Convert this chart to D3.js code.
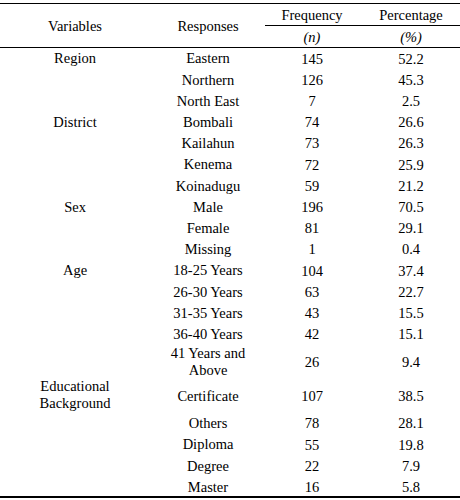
<!DOCTYPE html>
<html lang="en">
<head>
    <meta charset="UTF-8">
    <script src="https://d3js.org/d3.v7.min.js"></script>
    <style>
        body { margin: 0; background: #fff; }
        #table { position: relative; width: 460px; height: 500px; }
        .cell {
            position: absolute;
            width: 140px;
            margin-left: -70px;
            text-align: center;
            font-family: 'Liberation Serif';
            font-size: 14.5px;
            line-height: 16.5px;
            color: #000;
            white-space: pre;
        }
        .rule { position: absolute; background: #000; }
    </style>
</head>
<body>
    <div id="table"></div>

    <script>
        // Table data
        const columns = ["Variables", "Responses", "Frequency", "Percentage"];
        const units = ["", "", "(n)", "(%)"];
        const variables = ["Region", "District", "Sex", "Age", "Educational\nBackground"];
        const groupStart = [0, 3, 7, 10, 15];   // row where each variable label sits
        const responses = [
            "Eastern", "Northern", "North East",
            "Bombali", "Kailahun", "Kenema", "Koinadugu",
            "Male", "Female", "Missing",
            "18-25 Years", "26-30 Years", "31-35 Years", "36-40 Years", "41 Years and\nAbove",
            "Certificate", "Others", "Diploma", "Degree", "Master"
        ];
        const frequency = [145, 126, 7, 74, 73, 72, 59, 196, 81, 1, 104, 63, 43, 42, 26, 107, 78, 55, 22, 16];
        const percentage = [52.2, 45.3, 2.5, 26.6, 26.3, 25.9, 21.2, 70.5, 29.1, 0.4,
                            37.4, 22.7, 15.5, 15.1, 9.4, 38.5, 28.1, 19.8, 7.9, 5.8];

        const width = 460;
        const root = d3.select("#table");

        // Column centres
        const x = d3.scaleOrdinal()
            .domain(columns)
            .range([75, 208, 312, 411]);

        const topY = 3.5;
        const headY = 47.5;
        const singleH = 21.2;
        const doubleH = 34;

        // Build rows with cumulative y positions
        const rows = responses.map((r, i) => ({
            response: r,
            freq: frequency[i],
            pct: percentage[i],
            variable: groupStart.includes(i) ? variables[groupStart.indexOf(i)] : null
        }));
        rows.forEach(d => {
            const lines = Math.max(d.response.split("\n").length,
                                   d.variable ? d.variable.split("\n").length : 1);
            d.h = lines > 1 ? doubleH : singleH;
        });
        let acc = headY;
        rows.forEach(d => { d.y0 = acc; acc += d.h; d.cy = d.y0 + d.h / 2; });
        const bottomY = acc;

        // Rules
        const rule = (x1, x2, y, w) => root.append("div")
            .attr("class", "rule")
            .style("left", x1 + "px")
            .style("width", (x2 - x1) + "px")
            .style("top", (y - w / 2) + "px")
            .style("height", w + "px");
        rule(0, width, topY, 1.3);
        rule(265, width, 25, 1);
        rule(0, width, headY, 1.3);
        rule(0, width, bottomY, 1.3);

        // Centred text block, vertically centred on cy
        function cell(text, cx, cy, lineH, italic) {
            const n = String(text).split("\n").length;
            root.append("div")
                .attr("class", "cell")
                .style("left", cx + "px")
                .style("top", (cy - n * lineH / 2 + 0.5) + "px")
                .style("line-height", lineH + "px")
                .style("font-style", italic ? "italic" : null)
                .text(text);
        }

        // Header
        cell(columns[0], x(columns[0]), 25, 16, false);
        cell(columns[1], x(columns[1]), 25, 16, false);
        columns.slice(2).forEach((c, i) => {
            cell(c, x(c), 14.5, 16, false);
            cell(units[i + 2], x(c), 36, 16, true);
        });

        // Body
        rows.forEach(d => {
            if (d.variable) {
                const vy = d.variable.includes("\n") ? d.cy - 0.5 : d.cy;
                cell(d.variable, x("Variables"), vy, 17, false);
            }
            cell(d.response, x("Responses"), d.cy, 16.5, false);
            cell(d.freq, x("Frequency"), d.cy, 16, false);
            cell(d.pct.toFixed(1), x("Percentage"), d.cy, 16, false);
        });
    </script>
</body>
</html>
